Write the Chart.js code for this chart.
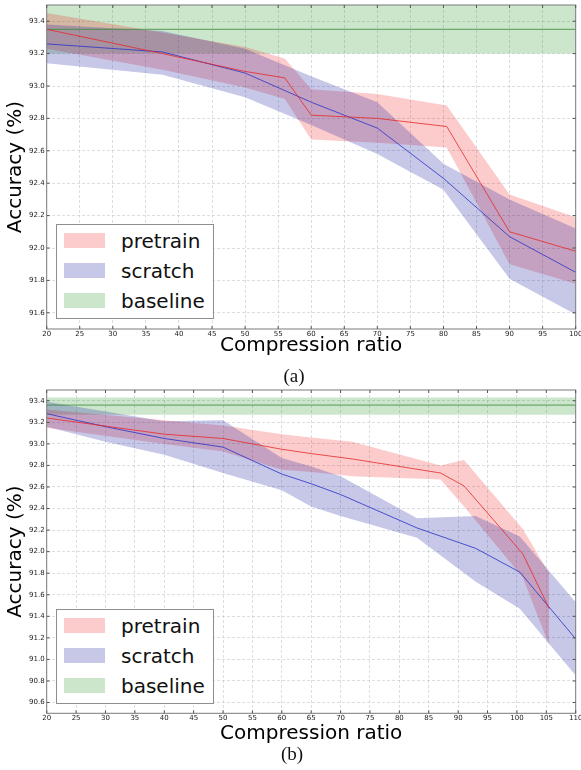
<!DOCTYPE html>
<html><head><meta charset="utf-8">
<script src="https://cdn.jsdelivr.net/npm/chart.js@4.4.0/dist/chart.umd.min.js"></script>
<style>
html,body{margin:0;padding:0;background:#fff;}
body{width:581px;height:770px;position:relative;overflow:hidden;font-family:"DejaVu Sans",sans-serif;}
canvas{position:absolute;left:0;}
#cA{top:0;} #cB{top:385px;}
.cap{position:absolute;font-family:"Liberation Serif","Times New Roman",serif;font-size:19px;color:#111;line-height:19px;width:40px;margin-left:-20px;text-align:center;}
.leg{position:absolute;left:56px;width:158px;height:95px;background:#fff;border:1px solid #8e8e8e;box-sizing:border-box;}
.sw{position:absolute;left:7px;width:41px;height:15px;}
.lt{position:absolute;left:64px;font-family:"DejaVu Sans",sans-serif;font-size:20px;line-height:24px;color:#111;white-space:nowrap;}
</style></head>
<body>
<canvas id="cA" width="581" height="362"></canvas>
<canvas id="cB" width="581" height="365"></canvas>
<div class="cap" style="left:294px;top:366px;">(a)</div>
<div class="cap" style="left:292px;top:744px;">(b)</div>
<div class="leg" style="top:224px;">
  <div class="sw" style="top:8px;background:rgba(240,0,0,0.2);"></div><div class="lt" style="top:4px;">pretrain</div>
  <div class="sw" style="top:38px;background:rgba(30,30,160,0.25);"></div><div class="lt" style="top:34px;">scratch</div>
  <div class="sw" style="top:68px;background:rgba(0,128,0,0.2);"></div><div class="lt" style="top:64px;">baseline</div>
</div>
<div class="leg" style="top:609px;">
  <div class="sw" style="top:8px;background:rgba(240,0,0,0.2);"></div><div class="lt" style="top:4px;">pretrain</div>
  <div class="sw" style="top:38px;background:rgba(30,30,160,0.25);"></div><div class="lt" style="top:34px;">scratch</div>
  <div class="sw" style="top:68px;background:rgba(0,128,0,0.2);"></div><div class="lt" style="top:64px;">baseline</div>
</div>
<script>
// ---------- Chart (a) ----------
const xTicksA = [20,25,30,35,40,45,50,55,60,65,70,75,80,85,90,95,100];
const yTicksA = [91.6,91.8,92.0,92.2,92.4,92.6,92.8,93.0,93.2,93.4];
const xPretrainA = [20, 37.5, 50, 56, 60, 70, 80.5, 90, 100];
const pretrainA    = [93.35, 93.20, 93.09, 93.05, 92.82, 92.80, 92.75, 92.10, 91.98];
const pretrainA_hi = [93.45, 93.33, 93.24, 93.17, 92.98, 92.95, 92.88, 92.33, 92.19];
const pretrainA_lo = [93.23, 93.10, 92.99, 92.92, 92.67, 92.65, 92.62, 91.90, 91.78];
const xScratchA = [20, 37.5, 50, 60, 70, 80, 90, 100];
const scratchA    = [93.26, 93.21, 93.08, 92.90, 92.74, 92.43, 92.07, 91.85];
const scratchA_hi = [93.38, 93.34, 93.23, 93.06, 92.90, 92.52, 92.30, 92.12];
const scratchA_lo = [93.14, 93.07, 92.93, 92.76, 92.58, 92.36, 91.81, 91.59];
const baselineA = [93.35, 93.20, 93.50]; // mean, low, high
const xRangeA = [20, 100];
const yRangeA = [91.5, 93.5];

// ---------- Chart (b) ----------
const xTicksB = [20,25,30,35,40,45,50,55,60,65,70,75,80,85,90,95,100,105,110];
const yTicksB = [90.6,90.8,91.0,91.2,91.4,91.6,91.8,92.0,92.2,92.4,92.6,92.8,93.0,93.2,93.4];
const xPretrainB = [20, 40, 50, 60, 65, 72, 87, 91, 101, 105.5];
const pretrainB    = [93.24, 93.09, 93.05, 92.95, 92.91, 92.86, 92.73, 92.61, 91.98, 91.47];
const pretrainB_hi = [93.32, 93.22, 93.17, 93.09, 93.06, 93.02, 92.80, 92.85, 92.21, 91.80];
const pretrainB_lo = [93.15, 93.00, 92.93, 92.76, 92.74, 92.70, 92.67, 92.42, 91.76, 91.13];
const xScratchB = [20, 30, 40, 50, 60, 65, 70, 83, 93, 100.5, 110];
const scratchB    = [93.28, 93.16, 93.05, 92.97, 92.72, 92.63, 92.53, 92.22, 92.03, 91.81, 91.19];
const scratchB_hi = [93.39, 93.30, 93.21, 93.22, 92.87, 92.79, 92.70, 92.31, 92.33, 92.14, 91.53];
const scratchB_lo = [93.16, 93.02, 92.90, 92.73, 92.57, 92.42, 92.33, 92.13, 91.72, 91.47, 90.85];
const baselineB = [93.36, 93.27, 93.43];
const xRangeB = [20, 110];
const yRangeB = [90.5, 93.5];

const RED_BAND = 'rgba(240,0,0,0.2)', BLUE_BAND = 'rgba(30,30,160,0.25)', GREEN_BAND = 'rgba(0,128,0,0.2)';
const RED_LINE = 'rgba(230,40,40,0.8)', BLUE_LINE = 'rgba(40,50,200,0.8)', GREEN_LINE = 'rgba(60,140,60,0.85)';

function pts(xs, ys){ return xs.map((x,i)=>({x:x, y:ys[i]})); }
function band(xs, hi, lo, color, order){
  return [
    {data:pts(xs,hi), borderColor:'transparent', borderWidth:0, pointRadius:0, fill:false, order:order},
    {data:pts(xs,lo), borderColor:'transparent', borderWidth:0, pointRadius:0, fill:'-1', backgroundColor:color, order:order}
  ];
}
function line(xs, ys, color){
  return {data:pts(xs,ys), borderColor:color, borderWidth:1, pointRadius:0, fill:false, order:0};
}

const framePlugin = {
  id:'frame',
  afterDatasetsDraw(chart){
    const {ctx, chartArea:{left,right,top,bottom}, scales:{x,y}} = chart;
    ctx.save();
    ctx.strokeStyle = '#7a7a7a'; ctx.lineWidth = 1;
    ctx.strokeRect(left, top, right-left, bottom-top);
    ctx.beginPath();
    x.ticks.forEach(t=>{const p=x.getPixelForValue(t.value); ctx.moveTo(p,bottom); ctx.lineTo(p,bottom-3); ctx.moveTo(p,top); ctx.lineTo(p,top+3);});
    y.ticks.forEach(t=>{const p=y.getPixelForValue(t.value); ctx.moveTo(left,p); ctx.lineTo(left+3,p); ctx.moveTo(right,p); ctx.lineTo(right-3,p);});
    ctx.strokeStyle = '#555';
    ctx.stroke();
    ctx.restore();
  }
};

function makeChart(id, d){
  const datasets = [].concat(
    [line(d.xp, d.p, RED_LINE), line(d.xs, d.s, BLUE_LINE),
     line(d.xr, [d.b[0], d.b[0]], GREEN_LINE)],
    band(d.xs, d.shi, d.slo, BLUE_BAND, 1),
    band(d.xp, d.phi, d.plo, RED_BAND, 2),
    band(d.xr, [d.b[2], d.b[2]], [d.b[1], d.b[1]], GREEN_BAND, 3)
  );
  const gridCol = 'rgba(170,185,190,0.45)';
  return new Chart(document.getElementById(id), {
    type:'line',
    data:{datasets:datasets},
    plugins:[framePlugin],
    options:{
      responsive:false, animation:false, devicePixelRatio:1,
      layout:{padding:{left:0, top:5, right:5.3, bottom:0}},
      plugins:{legend:{display:false}, tooltip:{enabled:false}},
      elements:{line:{tension:0}},
      scales:{
        x:{
          type:'linear', min:d.xr[0], max:d.xr[1],
          afterBuildTicks:s=>{ s.ticks = d.xt.map(v=>({value:v})); },
          ticks:{font:{family:'DejaVu Sans', size:7}, color:'#222', padding:1, maxRotation:0, autoSkip:false, callback:v=>String(v)},
          grid:{color:gridCol, lineWidth:1, drawTicks:false, borderDash:[3,2]},
          border:{display:false, dash:[3,2]},
          title:{display:true, text:'Compression ratio', font:{family:'DejaVu Sans', size:20}, color:'#000', padding:{top:0, bottom:d.xtp}},
          afterFit:s=>{ s.height = d.xh; s.paddingLeft = 0; s.paddingRight = 0; }
        },
        y:{
          type:'linear', min:d.yr[0], max:d.yr[1],
          afterBuildTicks:s=>{ s.ticks = d.yt.map(v=>({value:v})); },
          ticks:{font:{family:'DejaVu Sans', size:7}, color:'#222', padding:2, callback:v=>Number(v).toFixed(1)},
          grid:{color:gridCol, lineWidth:1, drawTicks:false, borderDash:[3,2]},
          border:{display:false, dash:[3,2]},
          title:{display:true, text:'Accuracy (%)', font:{family:'DejaVu Sans', size:20}, color:'#000', padding:{top:4, bottom:0}},
          afterFit:s=>{ s.width = 46.7; s.paddingTop = 0; s.paddingBottom = 0; }
        }
      }
    }
  });
}

makeChart('cA', {xp:xPretrainA, p:pretrainA, phi:pretrainA_hi, plo:pretrainA_lo,
  xs:xScratchA, s:scratchA, shi:scratchA_hi, slo:scratchA_lo,
  b:baselineA, xr:xRangeA, yr:yRangeA, xt:xTicksA, yt:yTicksA, xh:33, xtp:4});
makeChart('cB', {xp:xPretrainB, p:pretrainB, phi:pretrainB_hi, plo:pretrainB_lo,
  xs:xScratchB, s:scratchB, shi:scratchB_hi, slo:scratchB_lo,
  b:baselineB, xr:xRangeB, yr:yRangeB, xt:xTicksB, yt:yTicksB, xh:36.7, xtp:4.7});
</script>
</body></html>
